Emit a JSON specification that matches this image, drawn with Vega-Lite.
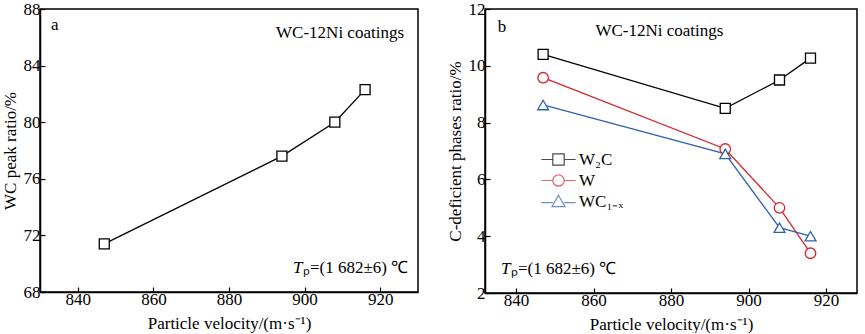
{
  "$schema": "https://vega.github.io/schema/vega-lite/v6.json",
  "padding": {"left": 0, "top": -1, "right": 5, "bottom": 0},
  "background": "white",
  "spacing": 26,
  "resolve": {"scale": {"color": "independent", "shape": "independent"}, "legend": {"color": "independent", "shape": "independent"}},
  "config": {
    "font": "Liberation Serif",
    "view": {"stroke": "black", "strokeWidth": 1.5},
    "axis": {
      "grid": false,
      "domainColor": "black",
      "domainWidth": 1.5,
      "tickColor": "black",
      "tickSize": -5,
      "tickWidth": 1.2,
      "labelFont": "Liberation Serif",
      "labelFontSize": 17,
      "labelColor": "black",
      "titleFont": "Liberation Serif",
      "titleFontSize": 17,
      "titleFontWeight": "normal",
      "titleColor": "black"
    }
  },
  "datasets": {
    "a": [
      {"v": 847, "r": 71.4},
      {"v": 894, "r": 77.6},
      {"v": 908, "r": 80.0},
      {"v": 916, "r": 82.3}
    ],
    "b": [
      {"v": 847, "r": 10.4, "s": "W2C"},
      {"v": 894, "r": 8.5, "s": "W2C"},
      {"v": 908, "r": 9.5, "s": "W2C"},
      {"v": 916, "r": 10.27, "s": "W2C"},
      {"v": 847, "r": 9.58, "s": "W"},
      {"v": 894, "r": 7.07, "s": "W"},
      {"v": 908, "r": 5.0, "s": "W"},
      {"v": 916, "r": 3.4, "s": "W"},
      {"v": 847, "r": 8.62, "s": "WC1-x"},
      {"v": 894, "r": 6.9, "s": "WC1-x"},
      {"v": 908, "r": 4.3, "s": "WC1-x"},
      {"v": 916, "r": 4.0, "s": "WC1-x"}
    ]
  },
  "hconcat": [
    {
      "width": 378,
      "height": 283,
      "data": {"name": "a"},
      "encoding": {
        "x": {"field": "v", "type": "quantitative", "scale": {"domain": [830, 930], "nice": false, "zero": false},
              "axis": {"values": [840, 860, 880, 900, 920], "title": "Particle velocity/(m·s⁻¹)", "labelPadding": 4, "titlePadding": 8}},
        "y": {"field": "r", "type": "quantitative", "scale": {"domain": [68, 88], "nice": false, "zero": false},
              "axis": {"values": [68, 72, 76, 80, 84, 88], "title": "WC peak ratio/%", "labelPadding": 5, "titlePadding": 4}}
      },
      "layer": [
        {"mark": {"type": "line", "color": "black", "strokeWidth": 1.3}},
        {"mark": {"type": "point", "shape": "square", "filled": true, "fill": "white", "stroke": "black", "strokeWidth": 1.3, "size": 100, "opacity": 1}},
        {"transform": [{"filter": "datum.v === 847"}],
         "mark": {"type": "text", "align": "left", "baseline": "middle", "font": "Liberation Serif", "fontSize": 17, "fontWeight": "normal", "color": "black"},
         "encoding": {"x": {"datum": 832.9}, "y": {"datum": 86.9}, "text": {"value": "a"}}},
        {"transform": [{"filter": "datum.v === 847"}],
         "mark": {"type": "text", "align": "right", "baseline": "middle", "font": "Liberation Serif", "fontSize": 17, "fontWeight": "normal", "color": "black"},
         "encoding": {"x": {"datum": 926.3}, "y": {"datum": 86.3}, "text": {"value": "WC-12Ni coatings"}}},
        {"transform": [{"filter": "datum.v === 847"}],
         "mark": {"type": "text", "align": "left", "baseline": "middle", "font": "Liberation Serif", "fontSize": 17, "fontStyle": "italic", "color": "black"},
         "encoding": {"x": {"datum": 896.9}, "y": {"datum": 69.7}, "text": {"value": "T"}}},
        {"transform": [{"filter": "datum.v === 847"}],
         "mark": {"type": "text", "align": "left", "baseline": "middle", "dx": 10, "font": "Liberation Serif", "fontSize": 17, "fontWeight": "normal", "color": "black"},
         "encoding": {"x": {"datum": 896.9}, "y": {"datum": 69.7}, "text": {"value": "ₚ=(1 682±6) ℃"}}}
      ]
    },
    {
      "width": 372,
      "height": 284,
      "data": {"name": "b"},
      "encoding": {
        "x": {"field": "v", "type": "quantitative", "scale": {"domain": [832, 928], "nice": false, "zero": false},
              "axis": {"values": [840, 860, 880, 900, 920], "title": "Particle velocity/(m·s⁻¹)", "labelPadding": 4, "titlePadding": 8}},
        "y": {"field": "r", "type": "quantitative", "scale": {"domain": [2, 12], "nice": false, "zero": false},
              "axis": {"values": [2, 4, 6, 8, 10, 12], "title": "C-deficient phases ratio/%", "labelPadding": 5, "titlePadding": 4}}
      },
      "layer": [
        {"transform": [{"filter": "datum.s === 'W2C'"}], "mark": {"type": "line", "strokeWidth": 1.3, "color": "black"}},
        {"transform": [{"filter": "datum.s === 'W'"}], "mark": {"type": "line", "strokeWidth": 1.3, "color": "#d8232c"}},
        {"transform": [{"filter": "datum.s === 'WC1-x'"}], "mark": {"type": "line", "strokeWidth": 1.3, "color": "#2f62ae"}},
        {"transform": [{"filter": "datum.s === 'W2C'"}],
         "mark": {"type": "point", "shape": "square", "filled": true, "fill": "white", "stroke": "black", "strokeWidth": 1.3, "size": 100, "opacity": 1}},
        {"transform": [{"filter": "datum.s === 'W'"}],
         "mark": {"type": "point", "shape": "circle", "filled": true, "fill": "white", "stroke": "#d8232c", "strokeWidth": 1.3, "size": 110, "opacity": 1}},
        {"transform": [{"filter": "datum.s === 'WC1-x'"}],
         "mark": {"type": "point", "shape": "triangle-up", "filled": true, "fill": "white", "stroke": "#2f62ae", "strokeWidth": 1.3, "size": 120, "opacity": 1}},
        {"transform": [{"filter": "datum.v < 0"}],
         "mark": {"type": "point", "filled": false, "strokeWidth": 1.2},
         "encoding": {
           "color": {"field": "s", "type": "nominal",
                      "scale": {"domain": ["W2C", "W", "WC1-x"], "range": ["black", "#d8232c", "#2f62ae"]},
                      "legend": {"title": null, "orient": "none", "legendX": 65, "legendY": 142,
                                 "symbolSize": 130, "symbolStrokeWidth": 1.2,
                                 "labelFont": "Liberation Serif", "labelFontSize": 17, "labelColor": "black",
                                 "labelOffset": 12, "rowPadding": 3,
                                 "labelExpr": "datum.value === 'W2C' ? 'W₂C' : datum.value === 'WC1-x' ? 'WC₁₋ₓ' : datum.value"}},
           "shape": {"field": "s", "type": "nominal",
                     "scale": {"domain": ["W2C", "W", "WC1-x"],
                               "range": ["M-3,0H-1M1,0H3M-1,-1H1V1H-1Z",
                                         "M-3,0H-1M1,0H3M-1,0A1,1 0 1,1 1,0A1,1 0 1,1 -1,0Z",
                                         "M-3,0.2H-1M1,0.2H3M0,-1.1L1.15,0.9H-1.15Z"]}}
         }},
        {"transform": [{"filter": "datum.v === 847 && datum.s === 'W2C'"}],
         "mark": {"type": "text", "align": "left", "baseline": "middle", "font": "Liberation Serif", "fontSize": 17, "fontWeight": "normal", "color": "black"},
         "encoding": {"x": {"datum": 835.3}, "y": {"datum": 11.37}, "text": {"value": "b"}}},
        {"transform": [{"filter": "datum.v === 847 && datum.s === 'W2C'"}],
         "mark": {"type": "text", "align": "center", "baseline": "middle", "font": "Liberation Serif", "fontSize": 17, "fontWeight": "normal", "color": "black"},
         "encoding": {"x": {"datum": 877}, "y": {"datum": 11.23}, "text": {"value": "WC-12Ni coatings"}}},
        {"transform": [{"filter": "datum.v === 847 && datum.s === 'W2C'"}],
         "mark": {"type": "text", "align": "left", "baseline": "middle", "font": "Liberation Serif", "fontSize": 17, "fontStyle": "italic", "color": "black"},
         "encoding": {"x": {"datum": 836.1}, "y": {"datum": 2.85}, "text": {"value": "T"}}},
        {"transform": [{"filter": "datum.v === 847 && datum.s === 'W2C'"}],
         "mark": {"type": "text", "align": "left", "baseline": "middle", "dx": 10, "font": "Liberation Serif", "fontSize": 17, "fontWeight": "normal", "color": "black"},
         "encoding": {"x": {"datum": 836.1}, "y": {"datum": 2.85}, "text": {"value": "ₚ=(1 682±6) ℃"}}}
      ]
    }
  ]
}
